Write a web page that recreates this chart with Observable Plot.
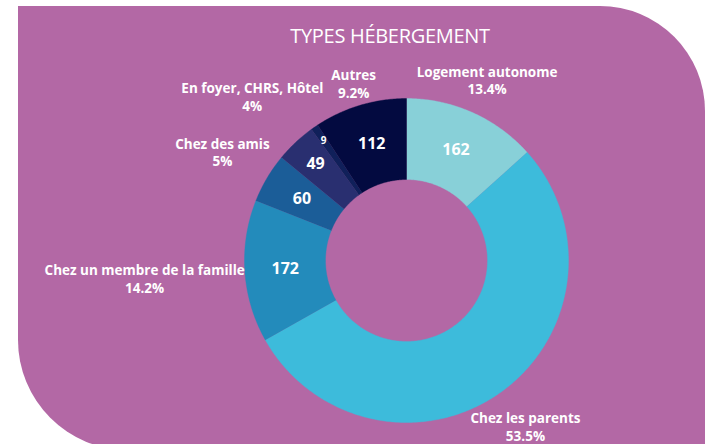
<!DOCTYPE html>
<html>
<head>
<meta charset="utf-8">
<script src="https://cdn.jsdelivr.net/npm/d3@7"></script>
<script src="https://cdn.jsdelivr.net/npm/@observablehq/plot@0.6"></script>
<style>
  html, body { margin: 0; padding: 0; background: #ffffff; }
  #wrap { position: relative; width: 714px; height: 444px; overflow: hidden; }
  #bg { position: absolute; left: 18px; top: 6px; width: 687px; height: 444px;
        background: #B368A5; border-top-right-radius: 105px; border-bottom-left-radius: 110px; }
  #title { position: absolute; left: 0; width: 780px; top: 22px; text-align: center;
           font-family: "Open Sans", sans-serif; font-size: 20px; color: #ffffff; letter-spacing: -0.3px; }
  #chart { position: absolute; left: 0; top: 0; }
</style>
</head>
<body>
<div id="wrap">
  <div id="bg"></div>
  <div id="title">TYPES HÉBERGEMENT</div>
  <div id="chart"></div>
</div>
<script>
// Data (clockwise from 12 o'clock)
const categories = ["Logement autonome", "Chez les parents", "Chez un membre de la famille", "Chez des amis", "En foyer, CHRS, Hôtel", "Non précisé", "Autres"];
const values = [162, 648, 172, 60, 49, 9, 112];
const percentLabels = ["13.4%", "53.5%", "14.2%", "5%", "4%", null, "9.2%"];
const showValue = [true, false, true, true, true, true, true];
const showName = [true, true, true, true, true, false, true];
const colors = ["#88D0D8", "#3DBBDB", "#238BBB", "#1B5D98", "#292F70", "#10205A", "#030A40"];

// Layout: outer label distance (in outer-radius units) per slice
const labelRadius = [1.22, 1.26, 1.62, 1.32, 1.39, null, 1.14];

const INNER = 0.5;
const pie = d3.pie().sort(null).value(d => d.value)(categories.map((name, i) => ({name, value: values[i], i})));

// Build slice outlines (unit circle, clockwise from top)
const pts = [];
for (const s of pie) {
  const n = Math.max(4, Math.ceil((s.endAngle - s.startAngle) / 0.01));
  for (let k = 0; k <= n; k++) {
    const a = s.startAngle + (s.endAngle - s.startAngle) * k / n;
    pts.push({name: s.data.name, x: Math.sin(a), y: Math.cos(a)});
  }
  for (let k = n; k >= 0; k--) {
    const a = s.startAngle + (s.endAngle - s.startAngle) * k / n;
    pts.push({name: s.data.name, x: INNER * Math.sin(a), y: INNER * Math.cos(a)});
  }
}

// Value labels inside the ring
const valueLabels = pie.filter(s => showValue[s.data.i]).map(s => {
  const a = (s.startAngle + s.endAngle) / 2;
  const small = s.data.value < 20;
  const r = small ? 0.9 : (s.data.value < 55 ? 0.82 : 0.75);
  return {text: String(s.data.value), x: r * Math.sin(a), y: r * Math.cos(a), small};
});

// Outer name + percent labels
const outerLabels = pie.filter(s => showName[s.data.i]).map(s => {
  const a = (s.startAngle + s.endAngle) / 2;
  const r = labelRadius[s.data.i];
  return {name: s.data.name, pct: percentLabels[s.data.i], x: r * Math.sin(a), y: r * Math.cos(a)};
});

const FS = 13.5;
const cx = 406, cy0 = 260, R = 162;
const chart = Plot.plot({
  width: 714,
  height: 444,
  margin: 0,
  style: {background: "transparent", overflow: "visible"},
  x: {domain: [-1, 1], range: [cx - R, cx + R], axis: null},
  y: {domain: [-1, 1], range: [cy0 + R, cy0 - R], axis: null},
  color: {domain: categories, range: colors},
  marks: [
    Plot.line(pts, {x: "x", y: "y", z: "name", fill: "name", stroke: "name", strokeWidth: 0.4}),
    Plot.text(valueLabels.filter(d => !d.small), {x: "x", y: "y", text: "text", fill: "white", fontSize: 16, fontWeight: "bold", fontFamily: "Open Sans"}),
    Plot.text(valueLabels.filter(d => d.small), {x: "x", y: "y", text: "text", fill: "white", fontSize: 10, fontWeight: "bold", fontFamily: "Open Sans"}),
    Plot.text(outerLabels, {x: "x", y: "y", text: d => d.name + "\n" + d.pct, fill: "white", fontSize: FS, fontWeight: "bold", fontFamily: "Open Sans", lineHeight: 1.3, textAnchor: "middle", letterSpacing: "-0.3px"})
  ]
});
document.getElementById("chart").appendChild(chart);
</script>
</body>
</html>
